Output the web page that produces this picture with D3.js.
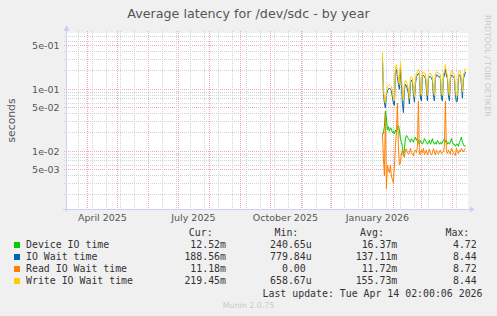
<!DOCTYPE html>
<html>
  <head>
    <meta charset="utf-8" />
    <title>Average latency for /dev/sdc - by year</title>
    <style>
      body {
        margin: 0;
        background: #f0f0f0;
      }
      svg text {
        font-family: "DejaVu Sans", sans-serif;
      }
      .mono {
        font-family: "DejaVu Sans Mono", monospace !important;
      }
    </style>
    <script src="https://cdn.jsdelivr.net/npm/d3@7"></script>
  </head>
  <body>
    <div id="chart"></div>
    <script>
      // values (one point per day, Jan 21 -> Apr 14 2026)
      var firstDay = [2026, 0, 21];
      var deviceIO = [
        0.018, 0.02, 0.025, 0.045, 0.035, 0.022, 0.025, 0.021, 0.024, 0.023,
        0.02, 0.021, 0.019, 0.022, 0.02, 0.024, 0.026, 0.022, 0.016, 0.014,
        0.012, 0.0085, 0.011, 0.016, 0.018, 0.017, 0.016, 0.015, 0.014, 0.016,
        0.015, 0.014, 0.016, 0.017, 0.015, 0.016, 0.014, 0.013, 0.015, 0.014,
        0.013, 0.014, 0.016, 0.015, 0.014, 0.013, 0.014, 0.015, 0.013, 0.014,
        0.016, 0.014, 0.013, 0.014, 0.013, 0.015, 0.014, 0.013, 0.014, 0.013,
        0.014, 0.015, 0.016, 0.014, 0.015, 0.013, 0.014, 0.013, 0.014, 0.016,
        0.014, 0.013, 0.013, 0.012, 0.013, 0.013, 0.012, 0.014, 0.015, 0.017,
        0.014, 0.013, 0.012, 0.0125
      ];
      var ioWait = [
        0.33, 0.085, 0.06, 0.05, 0.08, 0.095, 0.1, 0.105, 0.1, 0.095,
        0.075, 0.06, 0.055, 0.19, 0.21, 0.16, 0.12, 0.1, 0.22, 0.12,
        0.06, 0.042, 0.1, 0.12, 0.115, 0.1, 0.085, 0.058, 0.13, 0.14,
        0.13, 0.085, 0.062, 0.12, 0.16, 0.17, 0.18, 0.17, 0.072, 0.065,
        0.16, 0.17, 0.16, 0.15, 0.1, 0.065, 0.15, 0.16, 0.16, 0.15,
        0.14, 0.08, 0.065, 0.15, 0.17, 0.17, 0.16, 0.16, 0.15, 0.072,
        0.065, 0.15, 0.17, 0.21, 0.165, 0.15, 0.08, 0.065, 0.15, 0.17,
        0.165, 0.16, 0.15, 0.08, 0.062, 0.065, 0.155, 0.17, 0.165, 0.12,
        0.072, 0.15, 0.165, 0.19
      ];
      var readWait = [
        0.02, 0.008, 0.004, 0.04, 0.0025, 0.006, 0.005, 0.0045, 0.006, 0.004,
        0.0035, 0.0031, 0.006, 0.012, 0.02, 0.06, 0.012, 0.006, 0.0065, 0.009,
        0.0105, 0.009, 0.008, 0.0105, 0.011, 0.0095, 0.009, 0.0095, 0.0112, 0.0095,
        0.009, 0.0085, 0.01, 0.0105, 0.0095, 0.012, 0.065, 0.009, 0.0088, 0.0105,
        0.0095, 0.0112, 0.0088, 0.0095, 0.0105, 0.0088, 0.0098, 0.0108, 0.0092, 0.0087,
        0.0095, 0.011, 0.0098, 0.0088, 0.0105, 0.0095, 0.009, 0.0098, 0.0105, 0.0092,
        0.0095, 0.0098, 0.012, 0.065, 0.01, 0.0092, 0.0105, 0.0095, 0.009, 0.0112,
        0.0105, 0.0095, 0.0088, 0.0086, 0.0112, 0.0098, 0.0092, 0.0105, 0.0098, 0.0112,
        0.0105, 0.0098, 0.0105, 0.0112
      ];
      var writeWait = [
        0.39, 0.1, 0.07, 0.06, 0.09, 0.11, 0.115, 0.12, 0.115, 0.11,
        0.09, 0.07, 0.065, 0.22, 0.25, 0.19, 0.15, 0.12, 0.27, 0.17,
        0.09, 0.065, 0.12, 0.14, 0.13, 0.12, 0.1, 0.07, 0.15, 0.16,
        0.15, 0.1, 0.075, 0.14, 0.18, 0.19, 0.21, 0.2, 0.09, 0.08,
        0.19, 0.19, 0.18, 0.18, 0.12, 0.08, 0.17, 0.18, 0.18, 0.17,
        0.16, 0.1, 0.08, 0.17, 0.19, 0.19, 0.18, 0.18, 0.17, 0.09,
        0.08, 0.17, 0.2, 0.25, 0.19, 0.17, 0.1, 0.08, 0.17, 0.2,
        0.19, 0.18, 0.17, 0.1, 0.075, 0.08, 0.18, 0.2, 0.19, 0.14,
        0.09, 0.17, 0.19, 0.22
      ];

      var seriesNames = ["Device IO time", "IO Wait time", "Read IO Wait time", "Write IO Wait time"];
      var seriesColors = ["#00cc00", "#0066b3", "#ff8000", "#ffcc00"];
      var curVals = ["12.52m", "188.56m", "11.18m", "219.45m"];
      var minVals = ["240.65u", "779.84u", "0.00", "658.67u"];
      var avgVals = ["16.37m", "137.11m", "11.72m", "155.73m"];
      var maxVals = ["4.72", "8.44", "8.72", "8.44"];
      var colHeads = ["Cur:", "Min:", "Avg:", "Max:"];

      var yTickValues = [5e-3, 1e-2, 5e-2, 1e-1, 5e-1];
      var yTickLabels = ["5e-03", "1e-02", "5e-02", "1e-01", "5e-01"];
      var xTickDates = [[2025, 3, 16], [2025, 6, 16], [2025, 9, 16], [2026, 0, 16]];
      var xTickLabels = ["April 2025", "July 2025", "October 2025", "January 2026"];

      var W = 497, H = 316;
      var plotL = 65.5, plotR = 465.5, plotT = 33.5, plotB = 209;
      var tStart = new Date(2025, 2, 10, 2, 0, 0);
      var tEnd = new Date(2026, 3, 14, 2, 0, 0);

      var svg = d3.select("#chart").append("svg")
        .attr("width", W).attr("height", H);
      svg.append("rect").attr("width", W).attr("height", H).attr("fill", "#f0f0f0");

      var x = d3.scaleTime().domain([tStart, tEnd]).range([plotL, plotR]);
      var y = d3.scaleLog().domain([1.173e-3, 0.794]).range([plotB, plotT]);
      var px = function(v) { return Math.floor(v) + 0.5; };

      // canvas
      svg.append("rect")
        .attr("x", 66).attr("y", 33).attr("width", 402).attr("height", 176)
        .attr("fill", "#ffffff");

      // horizontal grid
      var minorY = y.ticks().filter(function(v) {
        var m = Math.round(v / Math.pow(10, Math.floor(Math.log10(v) + 1e-9)));
        return m != 1 && m != 5;
      });
      var gridGray = "#d2d2d2", gridRed = "#f4a8a8";
      svg.append("g").selectAll("line").data(minorY).join("line")
        .attr("x1", 64).attr("x2", 468)
        .attr("y1", function(d) { return px(y(d)); })
        .attr("y2", function(d) { return px(y(d)); })
        .attr("stroke", gridGray).attr("stroke-dasharray", "1,1");
      svg.append("g").selectAll("line").data(yTickValues).join("line")
        .attr("x1", 64).attr("x2", 468)
        .attr("y1", function(d) { return px(y(d)); })
        .attr("y2", function(d) { return px(y(d)); })
        .attr("stroke", gridRed).attr("stroke-dasharray", "1,1");

      // vertical grid: every other sunday, red on month starts
      var sundays = d3.timeSunday.range(tStart, tEnd).filter(function(d, i) { return i % 2 == 1; });
      var months = d3.timeMonth.range(tStart, tEnd);
      svg.append("g").selectAll("line").data(sundays).join("line")
        .attr("x1", function(d) { return px(x(d)); })
        .attr("x2", function(d) { return px(x(d)); })
        .attr("y1", 31).attr("y2", 211)
        .attr("stroke", gridGray).attr("stroke-dasharray", "1,1");
      svg.append("g").selectAll("line").data(months).join("line")
        .attr("x1", function(d) { return px(x(d)); })
        .attr("x2", function(d) { return px(x(d)); })
        .attr("y1", 31).attr("y2", 211)
        .attr("stroke", gridRed).attr("stroke-dasharray", "1,1");

      // axes with arrows
      var axisCol = "#c8d0f4";
      svg.append("line").attr("x1", 63).attr("x2", 471).attr("y1", 209.5).attr("y2", 209.5)
        .attr("stroke", axisCol);
      svg.append("path").attr("d", "M470,206.5L475,209.5L470,212.5Z").attr("fill", axisCol);
      svg.append("line").attr("x1", 66.5).attr("x2", 66.5).attr("y1", 212).attr("y2", 30)
        .attr("stroke", axisCol);
      svg.append("path").attr("d", "M63.5,31L66.5,25L69.5,31Z").attr("fill", axisCol);

      // y labels
      svg.append("g").selectAll("text").data(yTickValues).join("text")
        .attr("x", 59.5)
        .attr("y", function(d) { return px(y(d)) + 3.5; })
        .attr("text-anchor", "end")
        .attr("font-size", 9.5).attr("fill", "#555")
        .text(function(d, i) { return yTickLabels[i]; });

      // x labels
      svg.append("g").selectAll("text").data(xTickDates).join("text")
        .attr("x", function(d) { return x(new Date(d[0], d[1], d[2])); })
        .attr("y", 220.5)
        .attr("text-anchor", "middle")
        .attr("font-size", 9.5).attr("fill", "#555")
        .text(function(d, i) { return xTickLabels[i]; });

      // data lines
      var allSeries = [deviceIO, ioWait, readWait, writeWait];
      var line = d3.line()
        .x(function(d, i) { return x(new Date(firstDay[0], firstDay[1], firstDay[2] + i)); })
        .y(function(d) { return y(d); });
      svg.append("g").selectAll("path").data(allSeries).join("path")
        .attr("d", function(d) { return line(d); })
        .attr("fill", "none")
        .attr("stroke", function(d, i) { return seriesColors[i]; })
        .attr("stroke-width", 1);

      // title and unit
      svg.append("text").attr("x", 248.5).attr("y", 17.5)
        .attr("text-anchor", "middle").attr("font-size", 12.7).attr("fill", "#555")
        .text("Average latency for /dev/sdc - by year");
      svg.append("text").attr("transform", "translate(15,120.5) rotate(-90)")
        .attr("text-anchor", "middle").attr("font-size", 10.8).attr("fill", "#555")
        .text("seconds");
      svg.append("text").attr("transform", "translate(484.5,15) rotate(90)")
        .attr("font-size", 7.9).attr("fill", "#c8c8c8")
        .text("RRDTOOL / TOBI OETIKER");

      // legend
      var cw = 5.96;
      var colEnds = [226, 311.7, 397.3, 482.7];
      var cols = [curVals, minVals, avgVals, maxVals];
      var lg = svg.append("g").attr("font-size", 9.9).attr("fill", "#333");
      colHeads.forEach(function(h, c) {
        lg.append("text").attr("class", "mono")
          .attr("x", colEnds[c] - 13.4).attr("y", 236)
          .attr("text-anchor", "end").text(h);
      });
      seriesNames.forEach(function(name, r) {
        var by = 248 + r * 12;
        lg.append("rect").attr("x", 14).attr("y", by - 6).attr("width", 6).attr("height", 6)
          .attr("fill", seriesColors[r]);
        lg.append("text").attr("class", "mono").attr("x", 26).attr("y", by).text(name);
        cols.forEach(function(vals, c) {
          var v = vals[r];
          var hasUnit = /[a-z]$/i.test(v);
          lg.append("text").attr("class", "mono")
            .attr("x", hasUnit ? colEnds[c] : colEnds[c] - cw)
            .attr("y", by).attr("text-anchor", "end").text(v);
        });
      });
      lg.append("text").attr("class", "mono").attr("x", 482.5).attr("y", 296.5)
        .attr("text-anchor", "end").text("Last update: Tue Apr 14 02:00:06 2026");

      svg.append("text").attr("x", 248.5).attr("y", 308)
        .attr("text-anchor", "middle").attr("font-size", 7.9).attr("fill", "#c8c8c8")
        .text("Munin 2.0.75");
    </script>
  </body>
</html>
